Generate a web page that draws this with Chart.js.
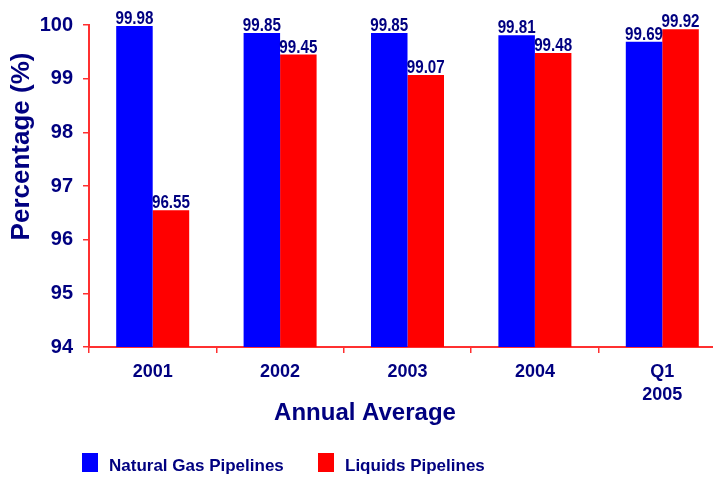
<!DOCTYPE html>
<html>
<head>
<meta charset="utf-8">
<script src="https://cdn.jsdelivr.net/npm/chart.js@4/dist/chart.umd.min.js"></script>
<style>
  html, body { margin: 0; padding: 0; background: #ffffff; overflow: hidden; }
  #wrap { width: 730px; height: 478px; }
</style>
</head>
<body>
<div id="wrap"><canvas id="c" width="730" height="478"></canvas></div>
<script>
const categories = [["2001"], ["2002"], ["2003"], ["2004"], ["Q1", "2005"]];
const naturalGas = [99.98, 99.85, 99.85, 99.81, 99.69];
const liquids = [96.55, 99.45, 99.07, 99.48, 99.92];
const seriesNames = ["Natural Gas Pipelines", "Liquids Pipelines"];
const seriesColors = ["#0000ff", "#ff0000"];
const yTitle = "Percentage (%)";
const xTitle = "Annual Average";

const NAVY = "#000080";
const AXIS = "#ff3030";

const labelsPlugin = {
  id: "extras",
  afterDatasetsDraw(chart) {
    const ctx = chart.ctx;
    ctx.save();
    ctx.fillStyle = NAVY;
    ctx.font = "bold 19px 'Liberation Sans', Arial, sans-serif";
    ctx.textAlign = "center";
    ctx.textBaseline = "alphabetic";
    chart.data.datasets.forEach((ds, di) => {
      const meta = chart.getDatasetMeta(di);
      meta.data.forEach((bar, i) => {
        ctx.save();
        ctx.translate(bar.x, bar.y - 2);
        ctx.scale(0.8, 1);
        ctx.fillText(ds.data[i].toFixed(2), 0, 0);
        ctx.restore();
      });
    });
    ctx.restore();
  },
  afterDraw(chart) {
    const ctx = chart.ctx;
    ctx.save();
    ctx.fillStyle = NAVY;
    // y title
    ctx.font = "bold 26px 'Liberation Sans', Arial, sans-serif";
    ctx.textAlign = "center";
    ctx.textBaseline = "middle";
    ctx.save();
    ctx.translate(22, 146.5);
    ctx.rotate(-Math.PI / 2);
    ctx.fillText(yTitle, 0, 0);
    ctx.restore();
    // x title
    ctx.font = "bold 24px 'Liberation Sans', Arial, sans-serif";
    ctx.textBaseline = "alphabetic";
    ctx.fillText(xTitle, 365, 420);
    // legend
    const items = [{x: 82, tx: 109}, {x: 318, tx: 345}];
    ctx.font = "bold 17px 'Liberation Sans', Arial, sans-serif";
    ctx.textAlign = "left";
    chart.data.datasets.forEach((ds, di) => {
      const it = items[di];
      ctx.fillStyle = ds.backgroundColor;
      ctx.fillRect(it.x, 453, 16, 19);
      ctx.fillStyle = NAVY;
      ctx.fillText(ds.label, it.tx, 470.5);
    });
    ctx.restore();
  }
};

new Chart(document.getElementById("c"), {
  type: "bar",
  data: {
    labels: categories,
    datasets: [
      { label: seriesNames[0], data: naturalGas, backgroundColor: seriesColors[0], borderWidth: 0 },
      { label: seriesNames[1], data: liquids, backgroundColor: seriesColors[1], borderWidth: 0 }
    ]
  },
  options: {
    responsive: false,
    animation: false,
    devicePixelRatio: 1,
    layout: { padding: { top: 25, right: 4, left: 0, bottom: 0 } },
    datasets: { bar: { categoryPercentage: 0.573, barPercentage: 1.0 } },
    plugins: {
      legend: { display: false },
      tooltip: { enabled: false },
      title: { display: false }
    },
    scales: {
      x: {
        offset: true,
        grid: { display: true, drawOnChartArea: false, offset: true, tickLength: 6, color: AXIS, lineWidth: 1.5 },
        border: { display: true, color: AXIS, width: 2 },
        ticks: {
          color: NAVY,
          padding: 7,
          maxRotation: 0,
          autoSkip: false,
          font: { family: "'Liberation Sans', Arial, sans-serif", size: 18, weight: "bold", lineHeight: 1.3 }
        },
        afterFit(scale) { scale.height = 131; }
      },
      y: {
        min: 94,
        max: 100,
        ticks: {
          stepSize: 1,
          color: NAVY,
          padding: 10,
          font: { family: "'Liberation Sans', Arial, sans-serif", size: 20, weight: "bold" }
        },
        grid: { display: true, drawOnChartArea: false, tickLength: 6, color: AXIS, lineWidth: 1.5 },
        border: { display: true, color: AXIS, width: 2 },
        afterFit(scale) { scale.width = 89; }
      }
    }
  },
  plugins: [labelsPlugin]
});
</script>
</body>
</html>
